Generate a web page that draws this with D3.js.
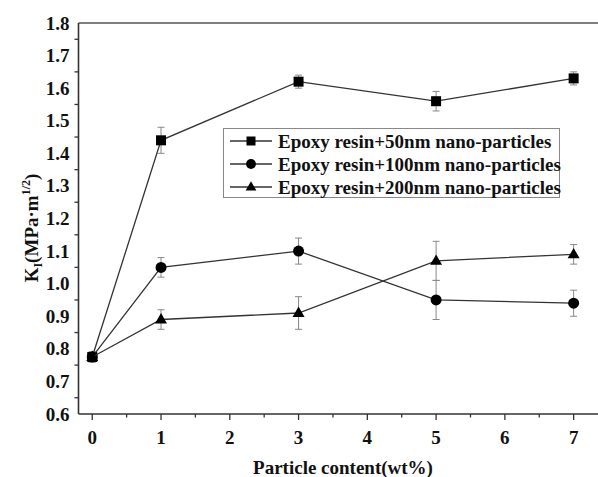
<!DOCTYPE html>
<html>
<head>
<meta charset="utf-8">
<script src="https://cdn.jsdelivr.net/npm/d3@7"></script>
<style>
  body { margin: 0; background: #fff; }
  svg { display: block; font-family: "Liberation Serif", "Times New Roman", serif; font-weight: bold; }
</style>
</head>
<body>
<div id="chart"></div>
<script>
// particle content (wt%)
const contents = [0, 1, 3, 5, 7];
const seriesNames = [
  'Epoxy resin+50nm nano-particles',
  'Epoxy resin+100nm nano-particles',
  'Epoxy resin+200nm nano-particles'
];
const kic50 = [0.775, 1.44, 1.62, 1.56, 1.63];
const err50 = [0.015, 0.04, 0.02, 0.03, 0.02];
const kic100 = [0.775, 1.05, 1.10, 0.95, 0.94];
const err100 = [0.015, 0.03, 0.04, 0.06, 0.04];
const kic200 = [0.775, 0.89, 0.91, 1.07, 1.09];
const err200 = [0.015, 0.03, 0.05, 0.06, 0.03];
const markers = ['square', 'circle', 'triangle'];
const yTicks = [0.6, 0.7, 0.8, 0.9, 1.0, 1.1, 1.2, 1.3, 1.4, 1.5, 1.6, 1.7, 1.8];
const xTicks = [0, 1, 2, 3, 4, 5, 6, 7];

const W = 598, H = 477;
const fs = 19;
const svg = d3.select('#chart').append('svg')
  .attr('width', W).attr('height', H);

const x = d3.scaleLinear().domain([-0.2, 7.6]).range([78.5, 614.9]);
const y = d3.scaleLinear().domain([0.6, 1.8]).range([414, 23]);

const axisColor = '#333';

// top frame line
svg.append('line')
  .attr('x1', x(-0.2)).attr('x2', W)
  .attr('y1', y(1.8)).attr('y2', y(1.8))
  .attr('stroke', '#555').attr('stroke-width', 1.6);

// x axis
const xAxis = svg.append('g')
  .attr('transform', 'translate(0,' + y(0.6) + ')');
xAxis.append('line')
  .attr('x1', x(-0.2)).attr('x2', W)
  .attr('stroke', axisColor).attr('stroke-width', 1.6);
xAxis.selectAll('.major').data(xTicks).enter().append('line')
  .attr('x1', d => x(d)).attr('x2', d => x(d))
  .attr('y1', 0).attr('y2', 6)
  .attr('stroke', axisColor).attr('stroke-width', 1.3);
xAxis.selectAll('.minor').data(xTicks.map(d => d + 0.5)).enter().append('line')
  .attr('x1', d => x(d)).attr('x2', d => x(d))
  .attr('y1', 0).attr('y2', 3.5)
  .attr('stroke', axisColor).attr('stroke-width', 1.3);
xAxis.selectAll('text').data(xTicks).enter().append('text')
  .attr('x', d => x(d)).attr('y', 30)
  .attr('text-anchor', 'middle')
  .attr('font-size', fs)
  .attr('fill', '#111')
  .text(d => d);

// y axis
const yAxis = svg.append('g')
  .attr('transform', 'translate(' + x(-0.2) + ',0)');
yAxis.append('line')
  .attr('y1', y(1.8)).attr('y2', y(0.6))
  .attr('stroke', axisColor).attr('stroke-width', 1.6);
yAxis.selectAll('.minor').data(yTicks.slice(0, -1).map(d => d + 0.05)).enter().append('line')
  .attr('y1', d => y(d)).attr('y2', d => y(d))
  .attr('x1', 0).attr('x2', -4)
  .attr('stroke', axisColor).attr('stroke-width', 1.3);
yAxis.selectAll('text').data(yTicks).enter().append('text')
  .attr('x', -9).attr('y', d => y(d) + 6.5)
  .attr('text-anchor', 'end')
  .attr('font-size', fs)
  .attr('fill', '#111')
  .text(d => d.toFixed(1));

// axis titles
svg.append('text')
  .attr('x', 343).attr('y', 474)
  .attr('text-anchor', 'middle')
  .attr('font-size', fs)
  .attr('fill', '#111')
  .text('Particle content(wt%)');

const yTitle = svg.append('text')
  .attr('transform', 'translate(38,228) rotate(-90)')
  .attr('text-anchor', 'middle')
  .attr('font-size', fs)
  .attr('fill', '#111');
yTitle.append('tspan').text('K');
yTitle.append('tspan').attr('font-size', 12).attr('dy', 4).text('I');
yTitle.append('tspan').attr('dy', -4).text('(MPa·m');
yTitle.append('tspan').attr('font-size', 12).attr('dy', -8).text('1/2');
yTitle.append('tspan').attr('dy', 8).text(')');

// markers
function drawMarker(g, type, cx, cy, scale) {
  const s = scale || 1;
  if (type === 'square') {
    g.append('rect')
      .attr('x', cx - 5 * s).attr('y', cy - 5 * s)
      .attr('width', 10 * s).attr('height', 10 * s)
      .attr('fill', '#000');
  } else if (type === 'circle') {
    g.append('circle')
      .attr('cx', cx).attr('cy', cy).attr('r', 5.5 * s)
      .attr('fill', '#000');
  } else {
    g.append('path')
      .attr('d', d3.symbol().type(d3.symbolTriangle).size(62 * s * s)())
      .attr('transform', 'translate(' + cx + ',' + (cy + 0.5) + ')')
      .attr('fill', '#000');
  }
}

const allSeries = [
  {values: kic50, errs: err50},
  {values: kic100, errs: err100},
  {values: kic200, errs: err200}
];

const line = d3.line()
  .x((d, i) => x(contents[i]))
  .y(d => y(d));

// error bars
allSeries.forEach(s => {
  const g = svg.append('g').attr('stroke', '#888').attr('stroke-width', 1);
  s.values.forEach((v, i) => {
    const cx = x(contents[i]);
    const top = y(v + s.errs[i]), bot = y(v - s.errs[i]);
    g.append('line').attr('x1', cx).attr('x2', cx).attr('y1', top).attr('y2', bot);
    g.append('line').attr('x1', cx - 3.5).attr('x2', cx + 3.5).attr('y1', top).attr('y2', top);
    g.append('line').attr('x1', cx - 3.5).attr('x2', cx + 3.5).attr('y1', bot).attr('y2', bot);
  });
});

// lines and points
allSeries.forEach((s, k) => {
  svg.append('path')
    .datum(s.values)
    .attr('d', line)
    .attr('fill', 'none')
    .attr('stroke', '#333')
    .attr('stroke-width', 1.3);
  const g = svg.append('g');
  s.values.forEach((v, i) => drawMarker(g, markers[k], x(contents[i]), y(v)));
});

// legend
const legend = svg.append('g').attr('transform', 'translate(223,128)');
legend.append('rect')
  .attr('x', 0.5).attr('y', 0.5)
  .attr('width', 336).attr('height', 69)
  .attr('fill', '#fff')
  .attr('stroke', '#888').attr('stroke-width', 1);
seriesNames.forEach((name, k) => {
  const ry = 13 + k * 23;
  legend.append('line')
    .attr('x1', 7).attr('x2', 49)
    .attr('y1', ry).attr('y2', ry)
    .attr('stroke', '#333').attr('stroke-width', 1.3);
  drawMarker(legend, markers[k], 28, ry, 0.9);
  legend.append('text')
    .attr('x', 55).attr('y', ry + 6.5)
    .attr('font-size', fs)
    .attr('fill', '#111')
    .text(name);
});
</script>
</body>
</html>
